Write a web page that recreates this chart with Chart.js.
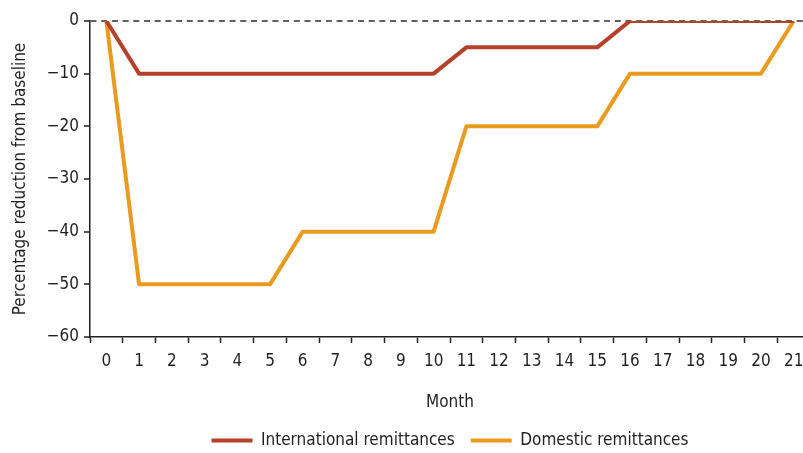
<!DOCTYPE html>
<html>
<head>
<meta charset="utf-8">
<script src="https://cdn.jsdelivr.net/npm/chart.js@4"></script>
<style>
html,body{margin:0;padding:0;background:#fff;overflow:hidden;}
canvas{display:block;}
</style>
</head>
<body>
<canvas id="c" width="815" height="453"></canvas>
<script>
const months = ['0','1','2','3','4','5','6','7','8','9','10','11','12','13','14','15','16','17','18','19','20','21'];
const international = [0,-10,-10,-10,-10,-10,-10,-10,-10,-10,-10,-5,-5,-5,-5,-5,0,0,0,0,0,0];
const domestic = [0,-50,-50,-50,-50,-50,-40,-40,-40,-40,-40,-20,-20,-20,-20,-20,-10,-10,-10,-10,-10,0];
const yMin = -60, yMax = 0, yStep = 10;

const FONT = "'Liberation Sans Narrow', 'DejaVu Sans Condensed', 'Roboto Condensed', sans-serif";
const TXT = '#231f20';
const RED = '#b5412b';
const ORANGE = '#e99a1f';

new Chart(document.getElementById('c'), {
  type: 'line',
  data: {
    labels: months,
    datasets: [
      {label: 'International remittances', data: international, borderColor: RED, backgroundColor: RED, borderWidth: 4, pointRadius: 0, tension: 0, borderJoinStyle: 'round'},
      {label: 'Domestic remittances', data: domestic, borderColor: ORANGE, backgroundColor: ORANGE, borderWidth: 4, pointRadius: 0, tension: 0, borderJoinStyle: 'round'}
    ]
  },
  options: {
    responsive: false,
    animation: false,
    layout: {padding: {left: 0, right: 5, top: 21, bottom: -6}},
    plugins: {
      tooltip: {enabled: false},
      legend: {
        position: 'bottom',
        fullSize: false,
        labels: {
          font: {family: FONT, size: 17},
          color: TXT,
          boxWidth: 41,
          boxHeight: 4,
          padding: 16,
          generateLabels(chart) {
            const items = Chart.defaults.plugins.legend.labels.generateLabels(chart);
            items.forEach(i => { i.lineWidth = 0; });
            return items;
          }
        }
      }
    },
    scales: {
      x: {
        type: 'category',
        offset: true,
        afterFit(s) { s.height = 79; },
        border: {display: true, color: TXT, width: 1.5},
        grid: {offset: true, drawOnChartArea: false, drawTicks: true, tickLength: 6, tickColor: TXT, tickWidth: 1.5},
        ticks: {font: {family: FONT, size: 17}, color: TXT, padding: 8, maxRotation: 0, autoSkip: false},
        title: {display: true, text: 'Month', font: {family: FONT, size: 17}, color: TXT, padding: {top: 0, bottom: 3}}
      },
      y: {
        min: yMin, max: yMax,
        afterFit(s) { s.width = 90; },
        border: {display: true, color: TXT, width: 1.5, dash: [6, 4.7]},
        grid: {
          drawTicks: true, tickLength: 6, tickColor: TXT, tickWidth: 1.5,
          color: ctx => (ctx.tick && ctx.tick.value === 0) ? '#606060' : 'rgba(0,0,0,0)',
          lineWidth: 2
        },
        ticks: {
          stepSize: yStep,
          font: {family: FONT, size: 17}, color: TXT, padding: 5,
          callback: v => String(v).replace('-', '\u2212')
        },
        title: {display: true, text: 'Percentage reduction from baseline', font: {family: FONT, size: 17}, color: TXT, padding: {top: 10, bottom: 0}}
      }
    }
  }
});
</script>
</body>
</html>
